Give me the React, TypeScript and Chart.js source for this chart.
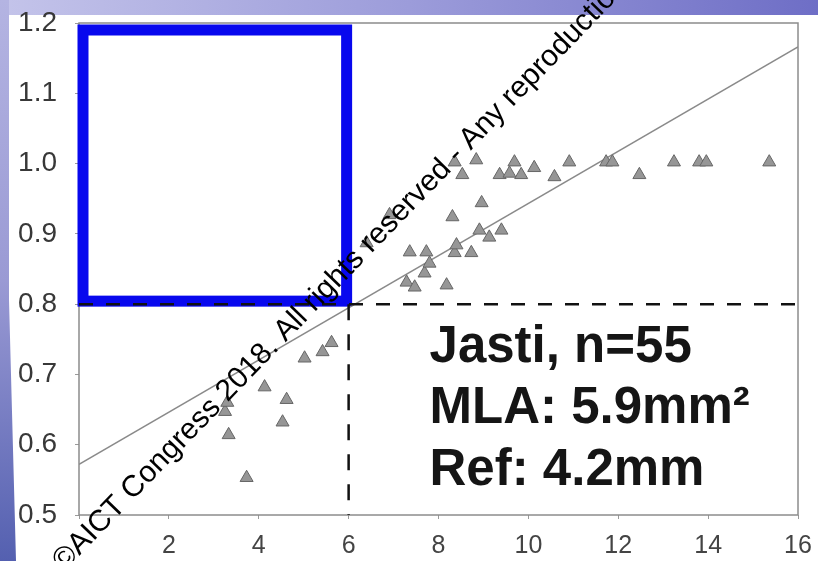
import React, { useEffect, useRef } from "react";
import { Chart, registerables } from "chart.js";

Chart.register(...registerables);

// ---- data ----
const MLA_X = [
  3.25, 3.3, 3.33, 3.73, 4.13, 4.62, 4.53, 5.02, 5.42, 5.62,
  6.4, 6.91, 7.29, 7.47, 7.69, 7.8, 7.36, 7.73, 8.18, 8.31, 8.36, 8.4, 8.73, 8.91, 8.96, 9.13, 9.4,
  8.36, 8.84, 8.53, 9.36, 9.58, 9.69, 9.84, 10.13, 10.58, 10.91, 11.73, 11.87, 12.47, 13.24, 13.8, 13.96, 15.36,
];
const FFR_Y = [
  0.647, 0.66, 0.614, 0.553, 0.682, 0.664, 0.632, 0.723, 0.732, 0.745,
  0.887, 0.927, 0.831, 0.824, 0.844, 0.858, 0.874, 0.874, 0.827, 0.924, 0.873, 0.884, 0.873, 0.905, 0.944, 0.895, 0.905,
  1.002, 1.005, 0.984, 0.984, 0.986, 1.002, 0.984, 0.994, 0.981, 1.002, 1.002, 1.002, 0.984, 1.002, 1.002, 1.002, 1.002,
];
const FIT_X = [0, 16];
const FIT_Y = [0.572, 1.166];
const CUTOFF_FFR = 0.8;
const CUTOFF_MLA = 6;
const X_RANGE = [0, 16];
const Y_RANGE = [0.5, 1.2];
const X_TICKS = [2, 4, 6, 8, 10, 12, 14, 16];
const Y_TICKS = [0.5, 0.6, 0.7, 0.8, 0.9, 1.0, 1.1, 1.2];
const BOX_X = [0, 6];
const BOX_Y = [0.8, 1.2];
const NOTE_LINES = ["Jasti, n=55", "MLA: 5.9mm²", "Ref: 4.2mm"];
const WATERMARK = "©AICT Congress 2018. All rights reserved - Any reproduction";

const FONT = '"Liberation Sans", Arial, Helvetica, sans-serif';

const decorPlugin = {
  id: "decor",
  beforeDraw(chart: any) {
    const { ctx, width, height } = chart;
    ctx.save();
    ctx.fillStyle = "#ffffff";
    ctx.fillRect(0, 0, width, height);
    // top band
    const gt = ctx.createLinearGradient(0, 0, width, 0);
    gt.addColorStop(0, "#c4c4ea");
    gt.addColorStop(0.5, "#9c9cda");
    gt.addColorStop(1, "#6e6ec6");
    ctx.fillStyle = gt;
    ctx.fillRect(0, 0, width, 15);
    // left band
    const gl = ctx.createLinearGradient(0, 0, 0, height);
    gl.addColorStop(0, "#b4b4e2");
    gl.addColorStop(0.5, "#9a9ad4");
    gl.addColorStop(1, "#5460b0");
    ctx.fillStyle = gl;
    ctx.beginPath();
    ctx.moveTo(0, 0);
    ctx.lineTo(9, 0);
    ctx.lineTo(9, 300);
    ctx.lineTo(16, height);
    ctx.lineTo(0, height);
    ctx.closePath();
    ctx.fill();
    ctx.restore();
  },
  beforeDatasetsDraw(chart: any) {
    const { ctx, chartArea, scales } = chart;
    const xs = scales.x;
    const ys = scales.y;
    ctx.save();
    // plot frame
    ctx.strokeStyle = "#8c8c8c";
    ctx.lineWidth = 1.5;
    ctx.strokeRect(chartArea.left, chartArea.top, chartArea.right - chartArea.left, chartArea.bottom - chartArea.top);
    // blue box
    const l = xs.getPixelForValue(BOX_X[0]) + 4;
    const r = xs.getPixelForValue(BOX_X[1]) - 2;
    const t = ys.getPixelForValue(BOX_Y[1]) + 7;
    const b = ys.getPixelForValue(BOX_Y[0]) - 3;
    ctx.strokeStyle = "#0808ee";
    ctx.lineWidth = 11;
    ctx.lineJoin = "miter";
    ctx.strokeRect(l, t, r - l, b - t);
    ctx.restore();
  },
  afterDatasetsDraw(chart: any) {
    const { ctx, scales } = chart;
    const xs = scales.x;
    const ys = scales.y;
    const x = xs.getPixelForValue(7.8);
    const baselines = [0.7176, 0.631, 0.543];
    ctx.save();
    ctx.fillStyle = "#151515";
    ctx.font = `bold 51px ${FONT}`;
    ctx.textAlign = "left";
    ctx.textBaseline = "alphabetic";
    NOTE_LINES.forEach((line, i) => {
      ctx.fillText(line, x, ys.getPixelForValue(baselines[i]));
    });
    ctx.restore();
  },
  afterDraw(chart: any) {
    const { ctx } = chart;
    ctx.save();
    ctx.translate(64, 572);
    ctx.rotate((-46 * Math.PI) / 180);
    ctx.fillStyle = "#000000";
    ctx.font = `30px ${FONT}`;
    ctx.textAlign = "left";
    ctx.textBaseline = "alphabetic";
    ctx.fillText(WATERMARK, 0, 0);
    ctx.restore();
  },
};

function zeroPadding(scale: any) {
  scale.paddingTop = 0;
  scale.paddingBottom = 0;
  scale.paddingLeft = 0;
  scale.paddingRight = 0;
}

export default function App() {
  const canvasRef = useRef<HTMLCanvasElement | null>(null);

  useEffect(() => {
    const canvas = canvasRef.current;
    if (!canvas) return;
    const points = MLA_X.map((x, i) => ({ x, y: FFR_Y[i] }));
    const chart = new Chart(canvas, {
      type: "scatter",
      data: {
        datasets: [
          {
            label: "FFR vs MLA",
            data: points,
            pointStyle: "triangle",
            pointRadius: 7.5,
            backgroundColor: "#969696",
            borderColor: "#666666",
            borderWidth: 1,
          },
          {
            label: "FFR cut-off",
            data: [
              { x: X_RANGE[0], y: CUTOFF_FFR },
              { x: X_RANGE[1], y: CUTOFF_FFR },
            ],
            showLine: true,
            pointRadius: 0,
            borderColor: "#111111",
            borderWidth: 2.5,
            borderDash: [14, 13],
          },
          {
            label: "MLA cut-off",
            data: [
              { x: CUTOFF_MLA, y: CUTOFF_FFR },
              { x: CUTOFF_MLA, y: Y_RANGE[0] },
            ],
            showLine: true,
            pointRadius: 0,
            borderColor: "#111111",
            borderWidth: 2.5,
            borderDash: [16, 14],
          },
          {
            label: "Fit",
            data: FIT_X.map((x, i) => ({ x, y: FIT_Y[i] })),
            showLine: true,
            pointRadius: 0,
            borderColor: "#8a8a8a",
            borderWidth: 1.6,
          },
        ],
      },
      options: {
        responsive: false,
        animation: false,
        layout: { padding: { top: 23, right: 20, left: 0, bottom: 0 } },
        plugins: {
          legend: { display: false },
          tooltip: { enabled: false },
        },
        scales: {
          x: {
            type: "linear",
            min: X_RANGE[0],
            max: X_RANGE[1],
            afterFit(scale: any) {
              scale.height = 46;
              zeroPadding(scale);
            },
            afterBuildTicks(scale: any) {
              scale.ticks = [0, ...X_TICKS].map((v) => ({ value: v }));
            },
            border: { display: false },
            grid: {
              display: true,
              drawOnChartArea: false,
              drawTicks: true,
              tickLength: 4,
              color: "#9a9a9a",
            },
            ticks: {
              padding: 12,
              color: "#444444",
              font: { family: FONT, size: 25 },
              maxRotation: 0,
              autoSkip: false,
              callback: (v: any) => (X_TICKS.includes(Number(v)) ? String(v) : ""),
            },
          },
          y: {
            type: "linear",
            min: Y_RANGE[0],
            max: Y_RANGE[1],
            afterFit(scale: any) {
              scale.width = 79;
              zeroPadding(scale);
            },
            afterBuildTicks(scale: any) {
              scale.ticks = Y_TICKS.map((v) => ({ value: v }));
            },
            border: { display: false },
            grid: {
              display: true,
              drawOnChartArea: false,
              drawTicks: true,
              tickLength: 4,
              color: "#9a9a9a",
            },
            ticks: {
              padding: 18,
              color: "#383838",
              font: { family: FONT, size: 28 },
              autoSkip: false,
              callback: (v: any) => Number(v).toFixed(1),
            },
          },
        },
      },
      plugins: [decorPlugin],
    });
    return () => chart.destroy();
  }, []);

  return (
    <div style={{ position: "fixed", left: 0, top: 0, width: 818, height: 561, overflow: "hidden", background: "#fff" }}>
      <canvas ref={canvasRef} width={818} height={561} style={{ display: "block", width: 818, height: 561 }} />
    </div>
  );
}
